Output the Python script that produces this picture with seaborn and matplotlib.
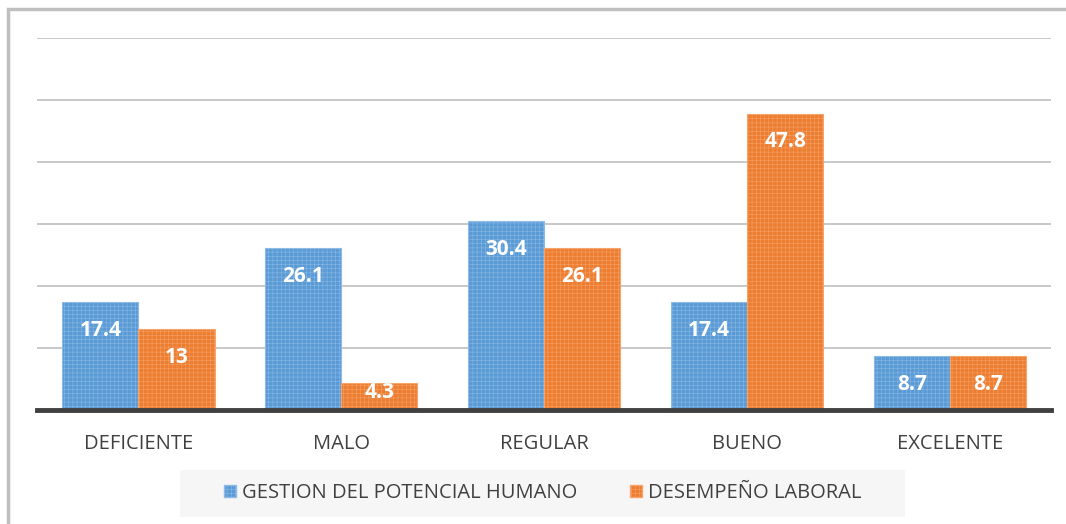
import matplotlib
matplotlib.use('Agg')
import matplotlib.pyplot as plt
import numpy as np
import pandas as pd
import seaborn as sns
from matplotlib.patches import Rectangle

categories = ['DEFICIENTE', 'MALO', 'REGULAR', 'BUENO', 'EXCELENTE']
series_names = ['GESTION DEL POTENCIAL HUMANO', 'DESEMPEÑO LABORAL']
gestion = [17.4, 26.1, 30.4, 17.4, 8.7]
desempeno = [13, 4.3, 26.1, 47.8, 8.7]

df = pd.DataFrame({
    'Nivel': categories * 2,
    'Serie': [series_names[0]] * 5 + [series_names[1]] * 5,
    'Valor': gestion + desempeno,
})

sns.set_theme(style='white')
plt.rcParams['font.family'] = ['Open Sans', 'DejaVu Sans']
plt.rcParams['hatch.linewidth'] = 0.35

colors = ['#5b9bd5', '#ed7d31']
hatch_colors = ['#8dbbe6', '#f6a46c']

fig = plt.figure(figsize=(10.66, 5.24), dpi=100)

# legend background box (behind everything)
fig.patches.append(Rectangle((180 / 1066, 1 - 517 / 524), 725 / 1066, 47 / 524,
                             transform=fig.transFigure, facecolor='#f6f6f6',
                             edgecolor='none', zorder=-5))

ax = fig.add_axes([0.0347, 0.2176, 0.9516, 0.71])
ax.patch.set_alpha(0)

sns.barplot(data=df, x='Nivel', y='Valor', hue='Serie', palette=colors,
            width=0.75, saturation=1, ax=ax, legend=True, zorder=2)

for container, hc in zip(ax.containers, hatch_colors):
    for bar in container:
        bar.set_hatch('++++')
        bar.set_edgecolor(hc)
        bar.set_linewidth(0.8)

# white bold value labels near the top of each bar
px_per_unit = (0.71 * 524) / 60
for container in ax.containers:
    for bar in container:
        h = bar.get_height()
        h_px = h * px_per_unit
        off_px = 28 if h_px >= 50 else h_px / 3
        ax.annotate(f'{h:g}', (bar.get_x() + bar.get_width() / 2, h),
                    xytext=(0, -off_px), textcoords='offset pixels',
                    ha='center', va='center', color='white',
                    fontsize=15, fontweight='bold', zorder=5)

ax.set_ylim(0, 60)
ax.set_xlim(-0.5, 4.5)
ax.set_yticks(np.arange(10, 61, 10))
ax.yaxis.grid(True, color='#c4c4c4', linewidth=1.3, zorder=0)
ax.set_axisbelow(True)
ax.set_yticklabels([])
ax.tick_params(axis='y', length=0)
ax.tick_params(axis='x', length=0, labelsize=14.5, labelcolor='#404040', pad=17)
ax.set_xlabel('')
ax.set_ylabel('')
for s in ['top', 'right', 'left']:
    ax.spines[s].set_visible(False)
ax.spines['bottom'].set_color('#404040')
ax.spines['bottom'].set_linewidth(3.5)

leg = ax.legend(loc='center', bbox_to_anchor=(542.5 / 1066, 1 - 493 / 524),
                bbox_transform=fig.transFigure, ncol=2, frameon=False,
                fontsize=14.5, handlelength=0.6, handleheight=0.6,
                handletextpad=0.3, columnspacing=2.6)
for t in leg.get_texts():
    t.set_color('#404040')
for p, hc in zip(leg.get_patches(), hatch_colors):
    p.set_hatch('++++')
    p.set_edgecolor(hc)

fig.patches.append(Rectangle((8 / 1066, -0.1), 1.2, 1 - 9 / 524 + 0.1,
                             transform=fig.transFigure, fill=False,
                             edgecolor='#bfbfbf', linewidth=2.5))

fig.savefig('out.png', dpi=100)
